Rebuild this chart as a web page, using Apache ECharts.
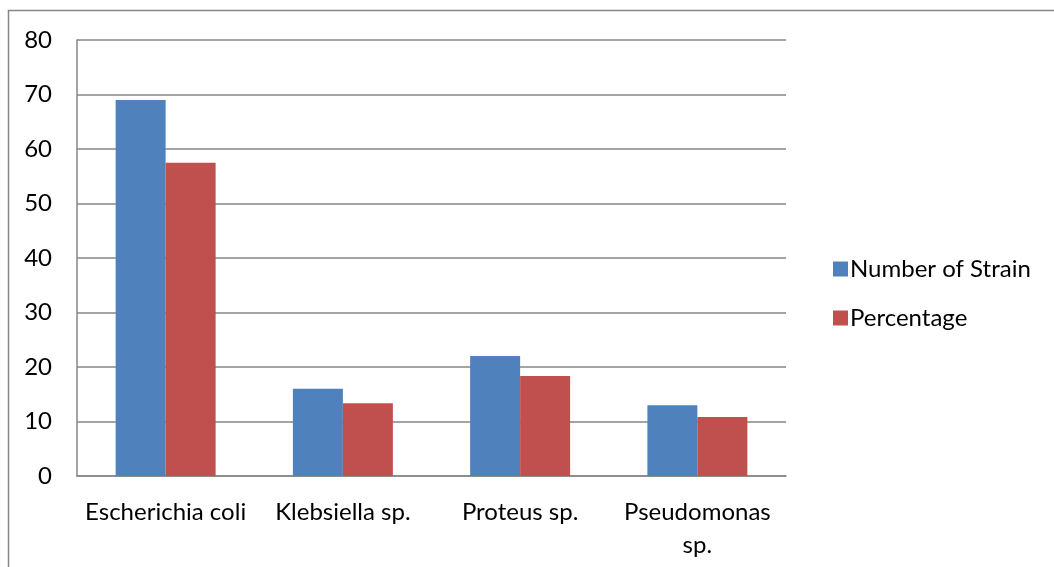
<!DOCTYPE html>
<html>
<head>
<meta charset="utf-8">
<script src="https://cdn.jsdelivr.net/npm/echarts@6/dist/echarts.min.js"></script>
<style>
  html, body { margin: 0; padding: 0; background: #ffffff; }
  #chart { width: 1054px; height: 567px; }
</style>
</head>
<body>
<div id="chart"></div>
<script>
// Isolated bacterial strains: count and share of total
const categories = ['Escherichia coli', 'Klebsiella sp.', 'Proteus sp.', 'Pseudomonas\nsp.'];
const strainCounts = [69, 16, 22, 13];
const percentages = [57.5, 13.33, 18.33, 10.83];
const yTicks = { min: 0, max: 80, interval: 10 };

const FONT = 'Lato, "Open Sans", sans-serif';
const GRID_GRAY = '#868686';

const chart = echarts.init(document.getElementById('chart'), null, { renderer: 'canvas' });

chart.setOption({
  backgroundColor: '#ffffff',
  animation: false,
  graphic: [{
    type: 'rect',
    shape: { x: 8.5, y: 10.5, width: 1200, height: 800 },
    style: { fill: 'none', stroke: GRID_GRAY, lineWidth: 1.5 },
    silent: true
  }],
  grid: { left: 77, top: 40, right: 268, bottom: 91 },
  legend: {
    orient: 'vertical',
    left: 828,
    top: 252,
    itemWidth: 15,
    itemHeight: 15,
    itemGap: 25,
    icon: 'rect',
    textStyle: { fontFamily: FONT, fontSize: 24, color: '#000', padding: [0, 0, 0, -3] },
    data: ['Number of Strain', 'Percentage']
  },
  xAxis: {
    type: 'category',
    data: categories,
    axisLine: { show: true, lineStyle: { color: GRID_GRAY, width: 1.5 } },
    axisTick: { show: false },
    axisLabel: {
      fontFamily: FONT, fontSize: 24, color: '#000',
      margin: 20, lineHeight: 33, interval: 0, align: 'center'
    }
  },
  yAxis: {
    type: 'value',
    min: yTicks.min, max: yTicks.max, interval: yTicks.interval,
    axisLine: { show: true, lineStyle: { color: GRID_GRAY, width: 1.5 } },
    axisTick: { show: false },
    splitLine: { show: true, lineStyle: { color: GRID_GRAY, width: 1.5 } },
    axisLabel: { fontFamily: FONT, fontSize: 24, color: '#000', margin: 25 }
  },
  series: [
    {
      name: 'Number of Strain',
      type: 'bar',
      data: strainCounts,
      barGap: '0%',
      barCategoryGap: '43.6%',
      itemStyle: { color: '#4F81BD' }
    },
    {
      name: 'Percentage',
      type: 'bar',
      data: percentages,
      itemStyle: { color: '#C0504D' }
    }
  ]
});
</script>
</body>
</html>
